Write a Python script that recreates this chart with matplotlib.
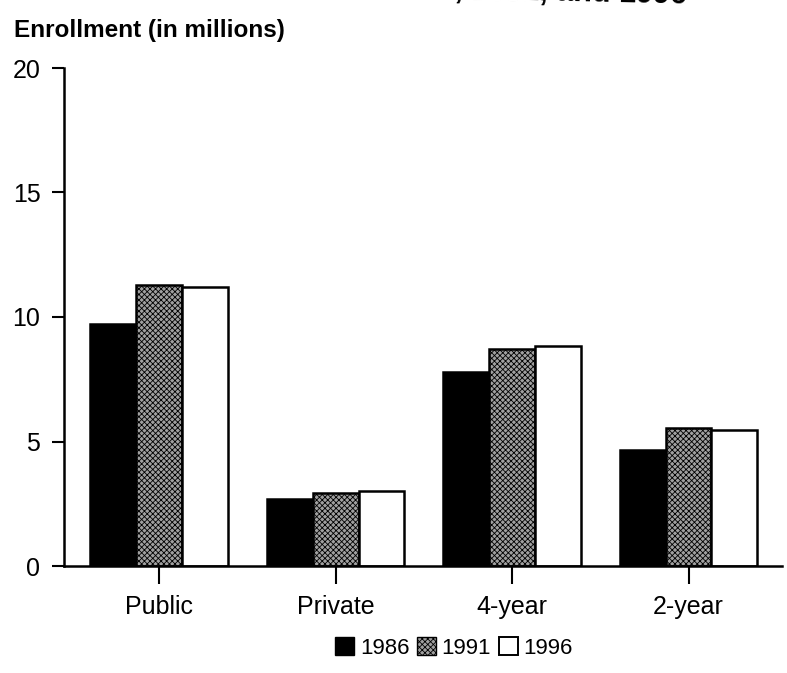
import matplotlib
matplotlib.use("Agg")
import matplotlib.pyplot as plt
import numpy as np
from matplotlib.patches import Patch

plt.rcParams['font.family'] = ['Liberation Sans', 'DejaVu Sans']
plt.rcParams['hatch.linewidth'] = 0.6

categories = ["Public", "Private", "4-year", "2-year"]
years = ["1986", "1991", "1996"]
values_1986 = [9.7, 2.7, 7.8, 4.65]
values_1991 = [11.3, 2.95, 8.7, 5.55]
values_1996 = [11.2, 3.0, 8.85, 5.45]
yticks = [0, 5, 10, 15, 20]
title_text = "Enrollment in higher education, by control and type of institution: 1986, 1991, and 1996"

fig = plt.figure(figsize=(7.87, 6.73), dpi=100)
ax = fig.add_axes([64/787, 1-566/673, (782-64)/787, (566-68)/673])

x = np.arange(len(categories))
w = 0.26
styles = [
    dict(facecolor='black', edgecolor='black', hatch=None),
    dict(facecolor='#a0a0a0', edgecolor='black', hatch='xxxxxx'),
    dict(facecolor='white', edgecolor='black', hatch=None),
]
series = [values_1986, values_1991, values_1996]
for i, (vals, st) in enumerate(zip(series, styles)):
    ax.bar(x + (i-1)*w, vals, width=w, linewidth=1.8, **st)

ax.set_xlim(-0.54, 3.53)
ax.set_ylim(0, 20)
ax.set_yticks(yticks)
ax.set_yticklabels([str(t) for t in yticks], fontsize=18)
ax.set_xticks(x)
ax.set_xticklabels(categories, fontsize=18)
for s in ['top', 'right']:
    ax.spines[s].set_visible(False)
for s in ['left', 'bottom']:
    ax.spines[s].set_linewidth(1.8)
ax.tick_params(axis='y', length=9, width=1.5, pad=8)
ax.tick_params(axis='x', length=13, width=1.5, pad=8)

fig.text(14/787, 1-30/673, "Enrollment (in millions)", fontsize=17.5,
         fontweight='bold', ha='left', va='center')

fig.text(687/787, 1-4/673, title_text, fontsize=22, fontweight='bold',
         ha='right', va='baseline', rotation=-1.3, rotation_mode='anchor')

handles = [Patch(facecolor='black', edgecolor='black'),
           Patch(facecolor='#a0a0a0', edgecolor='black', hatch='xxxxxx'),
           Patch(facecolor='white', edgecolor='black', linewidth=1.4)]
fig.legend(handles, years, loc='center', bbox_to_anchor=(454/787, 1-648/673),
           ncol=3, frameon=False, prop={'size': 16},
           handlelength=0.85, handleheight=0.85,
           handletextpad=0.25, columnspacing=0.35)

fig.savefig("out.png", dpi=100)
